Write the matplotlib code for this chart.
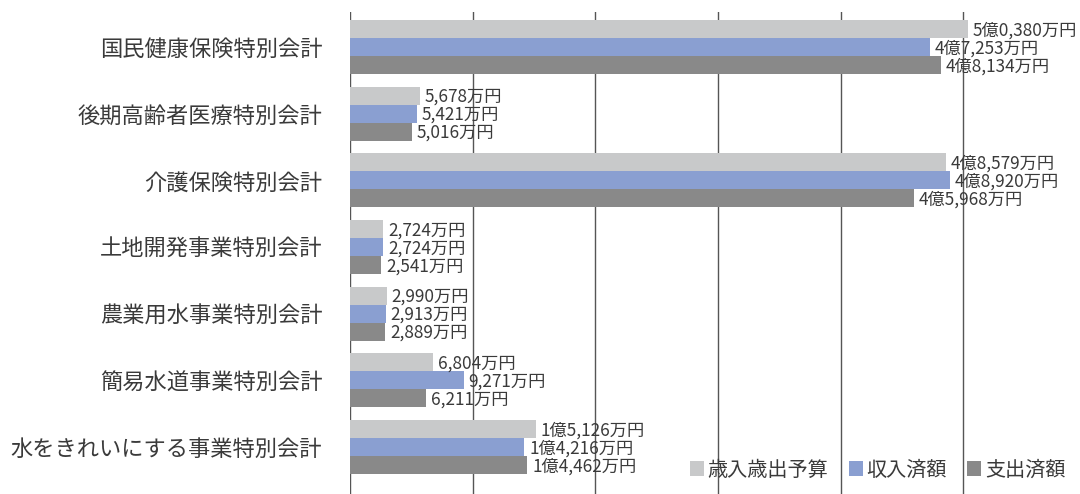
import matplotlib
matplotlib.use("Agg")
import matplotlib.pyplot as plt
from matplotlib.patches import Patch
import numpy as np

plt.rcParams['font.family'] = ['Noto Sans CJK JP', 'DejaVu Sans']

categories = ["国民健康保険特別会計", "後期高齢者医療特別会計", "介護保険特別会計",
              "土地開発事業特別会計", "農業用水事業特別会計", "簡易水道事業特別会計",
              "水をきれいにする事業特別会計"]
series_names = ["歳入歳出予算", "収入済額", "支出済額"]
# values in 万円
budget = [50380, 5678, 48579, 2724, 2990, 6804, 15126]
revenue = [47253, 5421, 48920, 2724, 2913, 9271, 14216]
expense = [48134, 5016, 45968, 2541, 2889, 6211, 14462]
colors = ["#C8C9CA", "#8A9FD1", "#898989"]

def fmt(v):
    if v >= 10000:
        oku, r = divmod(v, 10000)
        return f"{oku}億{r // 1000},{r % 1000:03d}万円"
    return f"{v:,}万円"

fig = plt.figure(figsize=(10.8, 4.94), dpi=100)
ax = fig.add_axes([350/1080, 0, 730/1080, (494-12)/494])

y = np.arange(len(categories))
h = 0.27
txt_color = "#3a3a3a"
for i, (vals, c) in enumerate(zip([budget, revenue, expense], colors)):
    yy = y + (i - 1) * h
    xv = np.array(vals) / 10000.0
    ax.barh(yy, xv, height=h, color=c, zorder=2)
    for xi, yi, v in zip(xv, yy, vals):
        ax.text(xi + 0.04, yi + 0.02, fmt(v), va='center', ha='left', fontsize=12.4,
                color=txt_color, zorder=3)

ax.set_xlim(0, 5.95)
ax.set_ylim(6.705, -0.525)
ax.set_xticks(range(6))
ax.set_xticklabels([])
ax.grid(axis='x', color='#555555', linewidth=1.0, zorder=0)
ax.set_axisbelow(True)
ax.set_yticks(y)
ax.set_yticklabels(categories, fontsize=16, color=txt_color)
ax.tick_params(axis='both', length=0)
ax.tick_params(axis='y', pad=20)
for s in ['top', 'right', 'bottom', 'left']:
    ax.spines[s].set_visible(False)

handles = [Patch(facecolor=c, edgecolor='none') for c in colors]
fig.legend(handles, series_names, loc='center right',
           bbox_to_anchor=(1076/1080, 1 - 470/494), bbox_transform=fig.transFigure,
           ncol=3, frameon=False, fontsize=14.5, handlelength=0.7, handleheight=0.7,
           handletextpad=0.2, columnspacing=1.0, borderpad=0, labelcolor=txt_color)

fig.savefig("out.png", dpi=100)
